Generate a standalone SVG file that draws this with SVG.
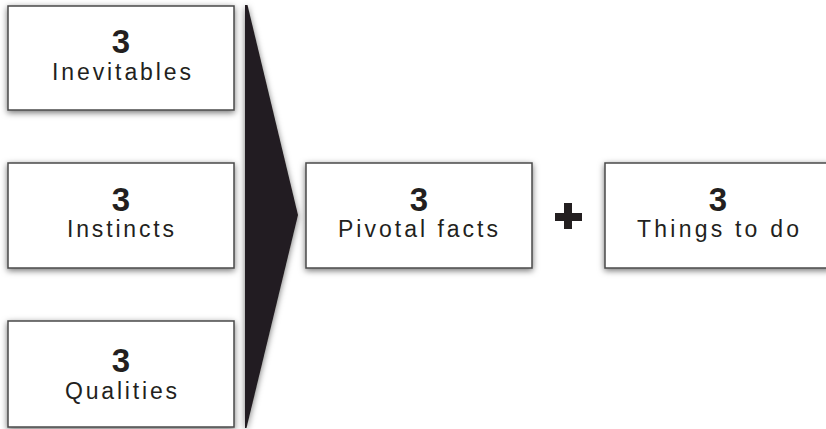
<svg xmlns="http://www.w3.org/2000/svg" width="826" height="429" viewBox="0 0 826 429">
  <defs>
    <filter id="sh" x="-20%" y="-20%" width="140%" height="150%">
      <feDropShadow dx="0" dy="2" stdDeviation="3" flood-color="#000" flood-opacity="0.55"/>
    </filter>
  </defs>
  <style>
    .box { fill: #ffffff; stroke: #4a4a4a; stroke-width: 1.5; filter: url(#sh); }
    .num { font-family: "Liberation Sans", Arial, sans-serif; font-weight: bold; font-size: 33px; fill: #231f20; text-anchor: middle; }
    .lbl { font-family: "Liberation Sans", Arial, sans-serif; font-size: 23px; fill: #231f20; text-anchor: middle; }
    .ink { fill: #231f20; }
  </style>
  <rect width="826" height="429" fill="#ffffff"/>
  <g id="connectors">
    <polygon class="ink" points="245,5 247.5,5 298,215 246.5,428 245,428" filter="url(#sh)"/>
    <g id="plus">
      <rect class="ink" x="555" y="213" width="27" height="8"/>
      <rect class="ink" x="564" y="203" width="8" height="26"/>
    </g>
  </g>
  <g id="inevitables">
    <rect class="box" x="8" y="6" width="226" height="104"/>
    <text class="num" x="121" y="53">3</text>
    <text class="lbl" x="121.5" y="80" textLength="139" lengthAdjust="spacing">Inevitables</text>
  </g>
  <g id="instincts">
    <rect class="box" x="8" y="163" width="226" height="105"/>
    <text class="num" x="121" y="211">3</text>
    <text class="lbl" x="120.5" y="237" textLength="107" lengthAdjust="spacing">Instincts</text>
  </g>
  <g id="qualities">
    <rect class="box" x="8" y="321" width="226" height="106"/>
    <text class="num" x="121" y="372">3</text>
    <text class="lbl" x="121" y="399" textLength="112" lengthAdjust="spacing">Qualities</text>
  </g>
  <g id="pivotal">
    <rect class="box" x="306" y="163" width="226" height="105"/>
    <text class="num" x="419" y="211">3</text>
    <text class="lbl" x="418" y="237" textLength="160" lengthAdjust="spacing">Pivotal facts</text>
  </g>
  <g id="things">
    <rect class="box" x="605" y="163" width="226" height="105"/>
    <text class="num" x="718" y="211">3</text>
    <text class="lbl" x="718" y="237" textLength="162" lengthAdjust="spacing">Things to do</text>
  </g>
</svg>
